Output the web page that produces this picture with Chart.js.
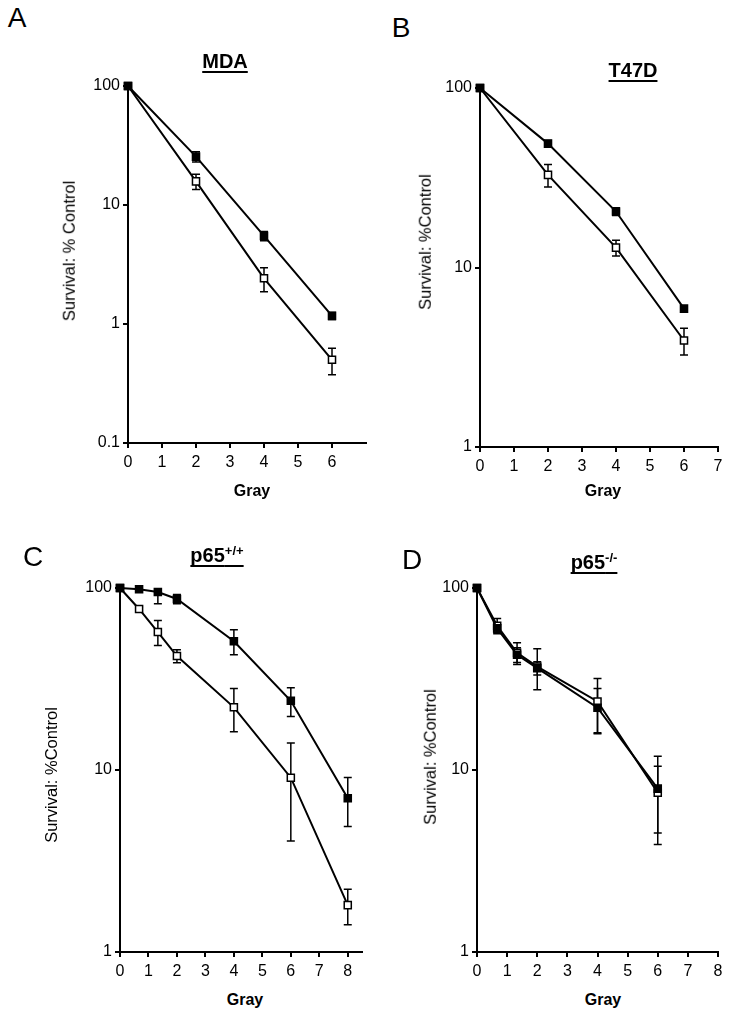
<!DOCTYPE html>
<html lang="en">
<head>
<meta charset="UTF-8">
<title>Survival curves</title>
<script src="https://cdn.jsdelivr.net/npm/chart.js"></script>
<style>
  body { margin: 0; background: #fff; font-family: Arial, "Liberation Sans", sans-serif; }
  #page { position: relative; width: 730px; height: 1015px; overflow: hidden; }
  canvas { position: absolute; }
  .lbl { position: absolute; transform: translate(-50%, -50%); white-space: nowrap; color: #000; line-height: 1; }
  .letter { font-size: 28px; }
  .title { font-size: 20px; font-weight: bold; text-decoration: underline; text-decoration-thickness: 2px; text-underline-offset: 3px; text-decoration-skip-ink: none; }
  .title sup { font-size: 13px; vertical-align: 7px; line-height: 0; }
  .ytitle { font-size: 16.5px; transform: translate(-50%, -50%) rotate(-90deg); }
  .xtitle { font-size: 16px; font-weight: bold; }
</style>
</head>
<body>
<div id="page">
  <canvas id="chartA"></canvas>
  <canvas id="chartB"></canvas>
  <canvas id="chartC"></canvas>
  <canvas id="chartD"></canvas>

  <div class="lbl letter" style="left:17px; top:18px;">A</div>
  <div class="lbl letter" style="left:401px; top:28px;">B</div>
  <div class="lbl letter" style="left:33px; top:557px;">C</div>
  <div class="lbl letter" style="left:412px; top:560px;">D</div>

  <div class="lbl title" style="left:225px; top:61px;">MDA</div>
  <div class="lbl title" style="left:633px; top:70px;">T47D</div>
  <div class="lbl title" style="left:217px; top:555px;">p65<sup>+/+</sup></div>
  <div class="lbl title" style="left:594px; top:562px;">p65<sup>-/-</sup></div>

  <div class="lbl ytitle" style="left:69px; top:251px;">Survival: % Control</div>
  <div class="lbl ytitle" style="left:425px; top:242px;">Survival: %Control</div>
  <div class="lbl ytitle" style="left:51px; top:775px;">Survival: %Control</div>
  <div class="lbl ytitle" style="left:430px; top:757px;">Survival: %Control</div>

  <div class="lbl xtitle" style="left:252px; top:491px;">Gray</div>
  <div class="lbl xtitle" style="left:603px; top:491px;">Gray</div>
  <div class="lbl xtitle" style="left:245px; top:1000px;">Gray</div>
  <div class="lbl xtitle" style="left:603px; top:1000px;">Gray</div>
</div>

<script>
  // A : MDA
  const doseMDA = [0, 2, 4, 6];
  const mdaSolid = [100, 25.5, 5.5, 1.17];
  const mdaSolidErr = [0, 2.5, 0.5, 0.08];
  const mdaOpen = [100, 15.8, 2.42, 0.5];
  const mdaOpenErr = [0, 2.3, 0.55, 0.125];

  // B : T47D
  const doseT47D = [0, 2, 4, 6];
  const t47dSolid = [100, 49, 20.5, 5.9];
  const t47dSolidErr = [0, 2, 1, 0.2];
  const t47dOpen = [100, 32.8, 12.9, 3.92];
  const t47dOpenErr = [0, 4.7, 1.3, 0.66];

  // C : p65+/+
  const doseWT = [0, 0.67, 1.33, 2, 4, 6, 8];
  const wtSolid = [100, 98.5, 95, 87, 51, 24, 7];
  const wtSolidErr = [0, 2, 13, 5, 8, 4.3, 2.1];
  const wtOpen = [100, 76.7, 57.3, 42.3, 22.1, 9.07, 1.81];
  const wtOpenErr = [0, 2, 9, 3.5, 5.9, 5, 0.4];

  // D : p65-/-
  const doseKO = [0, 0.67, 1.33, 2, 4, 6];
  const koSolid = [100, 60, 43, 36.3, 22, 7.9];
  const koSolidErr = [0, 3, 4, 3, 6, 4];
  const koOpen = [100, 62, 44, 37, 23.8, 7.5];
  const koOpenErr = [0, 6, 6, 9.4, 8, 3];

  // tick labels
  const yTicksA = [0.1, 1, 10, 100];
  const yTicksB = [1, 10, 100];
  const xTicks6 = [0, 1, 2, 3, 4, 5, 6];
  const xTicks7 = [0, 1, 2, 3, 4, 5, 6, 7];
  const xTicks8 = [0, 1, 2, 3, 4, 5, 6, 7, 8];

  const FONT = 'Arial, "Liberation Sans", sans-serif';
  const Y_W = 40;
  const X_H = 30;

  // error bars, drawn under the lines and markers
  const errorBars = {
    id: 'errorBars',
    beforeDatasetsDraw(chart) {
      const ctx = chart.ctx;
      const x = chart.scales.x, y = chart.scales.y;
      ctx.save();
      ctx.strokeStyle = '#000';
      ctx.lineWidth = 1.5;
      chart.data.datasets.forEach(ds => {
        if (!ds.errors) return;
        ds.data.forEach((p, i) => {
          const e = ds.errors[i];
          if (!e) return;
          const px = x.getPixelForValue(p.x);
          const hiV = Math.min(p.y + e, y.max);
          const loV = Math.max(p.y - e, y.min);
          const hi = y.getPixelForValue(hiV);
          const lo = y.getPixelForValue(loV);
          ctx.beginPath();
          ctx.moveTo(px, hi);
          ctx.lineTo(px, lo);
          if (hiV < y.max) { ctx.moveTo(px - 4, hi); ctx.lineTo(px + 4, hi); }
          if (loV > y.min) { ctx.moveTo(px - 4, lo); ctx.lineTo(px + 4, lo); }
          ctx.stroke();
        });
      });
      ctx.restore();
    }
  };

  function series(doses, vals, errs, fill) {
    return {
      data: doses.map((d, i) => ({ x: d, y: vals[i] })),
      errors: errs,
      borderColor: '#000',
      borderWidth: 2,
      tension: 0,
      clip: false,
      pointStyle: 'rect',
      pointRadius: 5,
      pointBorderWidth: 1.5,
      pointBorderColor: '#000',
      pointBackgroundColor: fill
    };
  }

  function makeChart(id, box, area, xMax, xTicks, yMin, yTicks, datasets) {
    const cv = document.getElementById(id);
    cv.width = box.w;
    cv.height = box.h;
    cv.style.left = box.x + 'px';
    cv.style.top = box.y + 'px';
    const axisStyle = {
      border: { display: true, color: '#000', width: 2 },
      grid: { drawOnChartArea: false, drawTicks: true, color: '#000', lineWidth: 2, tickLength: 5 }
    };
    return new Chart(cv, {
      type: 'line',
      data: { datasets: datasets },
      options: {
        responsive: false,
        animation: false,
        layout: {
          padding: {
            left: area.left - box.x - Y_W,
            top: area.top - box.y,
            right: box.x + box.w - area.right,
            bottom: box.y + box.h - area.bottom - X_H
          }
        },
        plugins: { legend: { display: false }, tooltip: { enabled: false } },
        scales: {
          x: Object.assign({
            type: 'linear',
            min: 0,
            max: xMax,
            afterBuildTicks: s => { s.ticks = xTicks.map(v => ({ value: v })); },
            afterFit: s => { s.height = X_H; },
            ticks: { color: '#000', padding: 5, font: { family: FONT, size: 16 }, callback: v => String(v) }
          }, axisStyle),
          y: Object.assign({
            type: 'logarithmic',
            min: yMin,
            max: 100,
            afterBuildTicks: s => { s.ticks = yTicks.map(v => ({ value: v })); },
            afterFit: s => { s.width = Y_W; },
            ticks: { color: '#000', padding: 3, font: { family: FONT, size: 16 }, callback: v => String(v) }
          }, axisStyle)
        }
      },
      plugins: [errorBars]
    });
  }

  makeChart('chartA', { x: 40, y: 70, w: 340, h: 415 },
    { left: 128, top: 86, right: 366, bottom: 443 }, 7, xTicks6, 0.1, yTicksA,
    [series(doseMDA, mdaSolid, mdaSolidErr, '#000'), series(doseMDA, mdaOpen, mdaOpenErr, '#fff')]);

  makeChart('chartB', { x: 400, y: 70, w: 330, h: 420 },
    { left: 480, top: 88, right: 718, bottom: 447 }, 7, xTicks7, 1, yTicksB,
    [series(doseT47D, t47dSolid, t47dSolidErr, '#000'), series(doseT47D, t47dOpen, t47dOpenErr, '#fff')]);

  makeChart('chartC', { x: 30, y: 570, w: 345, h: 420 },
    { left: 120, top: 588, right: 362, bottom: 952 }, 8.5, xTicks8, 1, yTicksB,
    [series(doseWT, wtSolid, wtSolidErr, '#000'), series(doseWT, wtOpen, wtOpenErr, '#fff')]);

  makeChart('chartD', { x: 390, y: 570, w: 340, h: 420 },
    { left: 477, top: 588, right: 718, bottom: 952 }, 8, xTicks8, 1, yTicksB,
    [series(doseKO, koSolid, koSolidErr, '#000'), series(doseKO, koOpen, koOpenErr, '#fff')]);
</script>
</body>
</html>
